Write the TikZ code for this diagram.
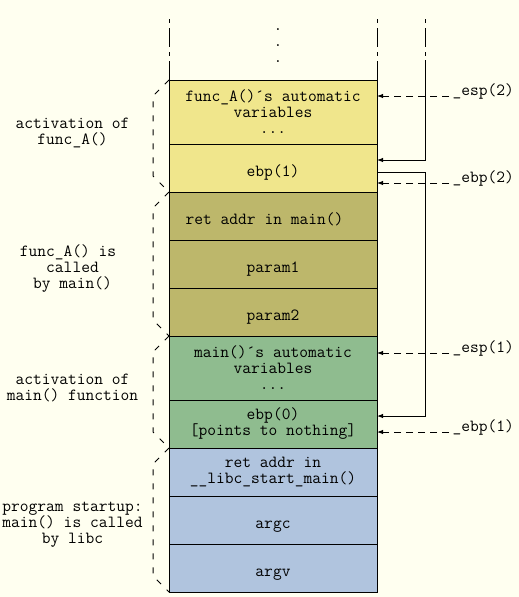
\documentclass[tikz,border=0pt]{standalone}
\usepackage{fontspec}
\usetikzlibrary{arrows.meta}
\definecolor{paper}{RGB}{255,255,240}
\definecolor{fAvars}{RGB}{240,230,140}
\definecolor{fAcall}{RGB}{189,183,107}
\definecolor{mainvars}{RGB}{143,188,143}
\definecolor{startup}{RGB}{176,196,222}

\begin{document}
\begin{tikzpicture}[x=1pt,y=-1pt,>={Latex[length=6pt,width=4.5pt]},
 every node/.style={font=\fontsize{17}{16}\selectfont\ttfamily},
 cell/.style={draw,line width=1pt,minimum width=208pt,minimum height=48pt,
 anchor=north,align=center,inner sep=0pt,outer sep=0pt},
 oneline/.style={text height=21pt,text depth=4pt},
 ptr/.style={->,line width=1pt},
 dptr/.style={->,line width=1pt,dash pattern=on 7pt off 5pt},
 brace/.style={line width=1pt,dash pattern=on 6pt off 8pt},
 rim/.style={line width=1pt,dash pattern=on 4pt off 5pt on 19pt off 5pt}]
\fill[paper] (0,0) rectangle (519,597);
\useasboundingbox (0,0) rectangle (519,597);
% the stack, top to bottom
\node[cell,fill=fAvars,minimum height=64pt] (fAauto) at (273,80)
 {func\_A()´s automatic\\variables\\...};
\node[cell,oneline,fill=fAvars] (fAebp) at (fAauto.south) {ebp(1)};
\node[cell,oneline,fill=fAcall] (retmain) at (fAebp.south) {ret addr in main()\hspace*{17pt}};
\node[cell,oneline,fill=fAcall] (param1) at (retmain.south) {param1};
\node[cell,oneline,fill=fAcall] (param2) at (param1.south) {param2};
\node[cell,fill=mainvars,minimum height=64pt] (mainauto) at (param2.south)
 {main()´s automatic\\variables\\...};
\node[cell,fill=mainvars] (mainebp) at (mainauto.south) {ebp(0)\\{[points to nothing]}};
\node[cell,fill=startup] (retlibc) at (mainebp.south) {ret addr in\\\_\_libc\_start\_main()};
\node[cell,oneline,fill=startup] (argc) at (retlibc.south) {argc};
\node[cell,oneline,fill=startup] (argv) at (argc.south) {argv};
% open top of the stack
\coordinate (rimL) at (169,19);
\coordinate (rimR) at (425,19);
\draw[rim] (rimL) -- (fAauto.north west);
\draw[rim] (rimL -| fAauto.north east) -- (fAauto.north east);
\draw[rim] (rimR) -- ++(0,41) coordinate (inA);
\node[align=center,inner sep=0pt,anchor=south] (dots) at (278,63) {.\\.\\.};
% saved frame pointers
\draw[ptr] (inA) |- ([yshift=8pt]fAebp.east);
\draw[ptr] ([yshift=-4pt]fAebp.east) -- ++(48,0) |- ([yshift=8pt]mainebp.east);
% registers
\foreach \nm/\txt/\y in {esptwo/esp(2)/96,ebptwo/ebp(2)/183,espone/esp(1)/353,ebpone/ebp(1)/432}{
 \coordinate (\nm) at (449,\y);
 \node[anchor=base west,yshift=1pt] (\nm txt) at (\nm) {\_\txt};
 \draw[dptr] (\nm) -- (fAauto.east |- \nm);
}
% frames on the left
\foreach \a/\b in {80/192,192/336,336/448,448/592}
 \draw[brace] (169,\a) -- (153,{\a+16}) -- (153,{\b-16}) -- (169,\b);
\node[align=center] (fAact) at (72.5,133) {activation of\\func\_A()};
\node[align=center] (fAcalled) at (72.5,269)
 {func\_A() is\hspace*{0.525em}\\called\\by main()};
\node[align=center] (mainact) at (72.5,388) {activation of\\main() function};
\node[align=center] (progstart) at (72.5,525) {program startup:\\main() is called\\by libc};
\end{tikzpicture}
\end{document}
